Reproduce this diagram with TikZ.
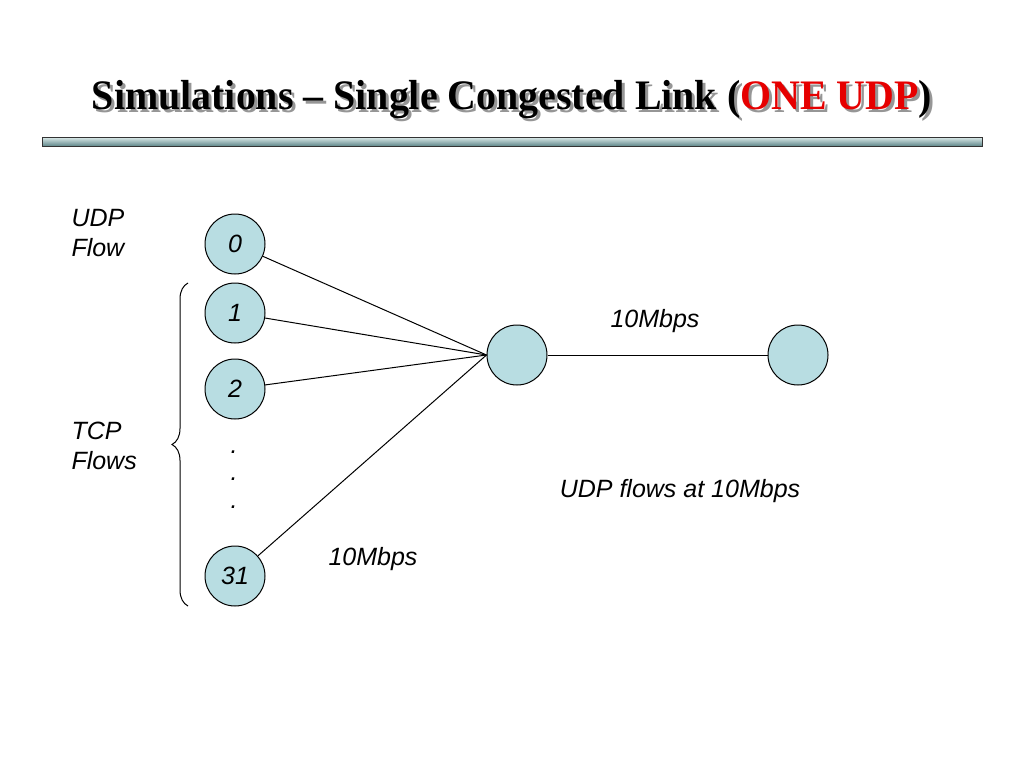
\documentclass[tikz,border=0pt]{standalone}
\usepackage{fontspec}
\setmainfont{Liberation Sans}
\newfontfamily\titlefont{Liberation Serif}
\usetikzlibrary{decorations.pathreplacing}
\definecolor{nodefill}{RGB}{184,221,226}
\definecolor{titlered}{RGB}{230,0,0}
\definecolor{shadowgray}{RGB}{150,150,150}
\tikzset{
  host/.style={circle, draw, fill=nodefill, minimum size=60pt, inner sep=0pt,
               font=\fontsize{25}{30}\selectfont\itshape},
  lbl/.style={font=\fontsize{25}{30}\selectfont\itshape, align=left, inner sep=0pt},
  ttl/.style={font=\titlefont\fontsize{42}{48}\selectfont\bfseries, inner sep=0pt}
}
\begin{document}
\begin{tikzpicture}[x=1pt, y=-1pt, line width=1pt]
      \useasboundingbox (0, 0) rectangle (1024, 768);
      % title with its shadow and the bar below
      \draw (515, 103) node (ttlshadow) [ttl, text=shadowgray] {\scalebox{0.95}[1]{Simulations – Single Congested Link (ONE UDP)}}
            (512, 100) node (ttl) [ttl] {\scalebox{0.95}[1]{Simulations – Single Congested Link (\textcolor{titlered}{ONE UDP})}};
      \shade [top color={rgb,255:red,222;green,236;blue,236}, bottom color={rgb,255:red,96;green,136;blue,138},
              draw=black!80] (42, 137) rectangle (982, 146);
      % the hosts
      \draw (235, 244) node (h0) [host] {0}
            (235, 313) node (h1) [host] {1}
            (235, 389) node (h2) [host] {2}
            (235, 576) node (h31) [host] {31}
            (517, 355) node (rtr) [host] {}
            (798, 355) node (dst) [host] {};
      \draw (234, 452) node (dota) [lbl] {.}
            (234, 479) node (dotb) [lbl] {.}
            (234, 507) node (dotc) [lbl] {.};
      % labels
      \draw (71, 233) node (udpl) [lbl, anchor=west] {UDP\\Flow}
            (71, 446) node (tcpl) [lbl, anchor=west] {TCP\\Flows}
            (655, 321) node (bwa) [lbl] {10Mbps}
            (373, 559) node (bwb) [lbl] {10Mbps}
            (680, 491) node (udpr) [lbl] {UDP flows at 10Mbps};
      \draw [decorate, decoration={brace, amplitude=16pt}] (188, 606) -- (188, 283);
      % links
      \draw (h0) edge (rtr.west)
            (h1) edge (rtr.west)
            (h2) edge (rtr.west)
            (h31) edge (rtr.west)
            (rtr) edge (dst);
\end{tikzpicture}
\end{document}
